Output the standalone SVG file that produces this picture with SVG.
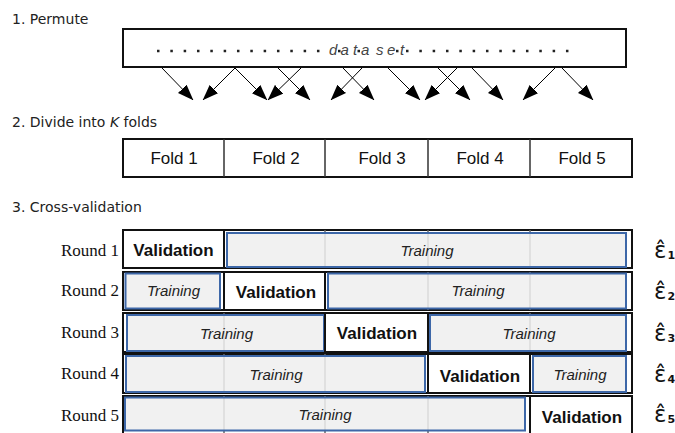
<svg xmlns="http://www.w3.org/2000/svg" width="675" height="433" viewBox="0 0 675 433">
  <defs>
    <marker id="head" markerUnits="userSpaceOnUse" markerWidth="16" markerHeight="12" viewBox="0 0 16 12" refX="15.5" refY="6" orient="auto">
      <path d="M0,0 L16,6 L0,12 z" fill="#000"/>
    </marker>
    <style>
      .hdr{font-family:"DejaVu Sans",sans-serif;font-size:14px;fill:#222}
      .box{fill:#fff;stroke:#111;stroke-width:2}
      .div{stroke:#333;stroke-width:1.5}
      .dots{stroke:#222;stroke-width:2.5;stroke-dasharray:2.5 10.83}
      .dot{fill:#222}
      .word{font-family:"Liberation Sans",Arial,sans-serif;font-size:15px;font-style:italic;fill:#444}
      .fold{font-family:"Liberation Sans",Arial,sans-serif;font-size:17px;fill:#111;text-anchor:middle}
      .round{font-family:"Liberation Serif","Times New Roman",serif;font-size:17px;fill:#111;text-anchor:end}
      .frame{fill:#fff;stroke:#111;stroke-width:2}
      .grid{stroke:#666;stroke-width:1.5}
      .train{fill:#eeeeee;fill-opacity:0.85;stroke:#3d67a8;stroke-width:2}
      .val{fill:#fff;stroke:#111;stroke-width:2}
      .vt{font-family:"Liberation Sans",Arial,sans-serif;font-size:17px;font-weight:bold;fill:#111;text-anchor:middle}
      .tt{font-family:"Liberation Sans",Arial,sans-serif;font-size:15px;font-style:italic;fill:#222;text-anchor:middle}
      .eps{font-family:"DejaVu Sans",sans-serif;font-size:23px;fill:#111}
      .sub{font-size:11px;font-weight:bold}
      .arrow{stroke:#000;stroke-width:1;fill:none;marker-end:url(#head)}
    </style>
  </defs>

  <!-- section headings -->
  <text class="hdr" x="12" y="24">1. Permute</text>
  <text class="hdr" x="12" y="127">2. Divide into <tspan font-style="italic">K</tspan> folds</text>
  <text class="hdr" x="12" y="212">3. Cross-validation</text>

  <!-- shuffled dataset -->
  <g id="dataset">
    <rect class="box" x="123" y="29" width="503" height="38"/>
    <line class="dots" x1="157" y1="51" x2="320" y2="51"/>
    <line class="dots" x1="406" y1="51" x2="569" y2="51"/>
    <rect class="dot" x="338" y="49.8" width="2.5" height="2.5"/>
    <rect class="dot" x="357.5" y="49.8" width="2.5" height="2.5"/>
    <rect class="dot" x="396" y="49.8" width="2.5" height="2.5"/>
    <text class="word" x="329 340.5 353 361 376 387 400" y="55">dataset</text>
  </g>

  <!-- permutation arrows -->
  <g id="connectors">
    <line class="arrow" x1="162" y1="68" x2="193" y2="100"/>
    <line class="arrow" x1="235" y1="68" x2="203" y2="100"/>
    <line class="arrow" x1="235" y1="68" x2="267" y2="100"/>
    <line class="arrow" x1="301" y1="68" x2="268" y2="100"/>
    <line class="arrow" x1="278" y1="68" x2="310" y2="100"/>
    <line class="arrow" x1="362" y1="68" x2="331" y2="100"/>
    <line class="arrow" x1="343" y1="68" x2="374" y2="100"/>
    <line class="arrow" x1="388" y1="68" x2="420" y2="100"/>
    <line class="arrow" x1="457" y1="68" x2="425" y2="100"/>
    <line class="arrow" x1="438" y1="68" x2="470" y2="100"/>
    <line class="arrow" x1="472" y1="68" x2="503" y2="100"/>
    <line class="arrow" x1="555" y1="68" x2="523" y2="100"/>
    <line class="arrow" x1="562" y1="68" x2="593" y2="100"/>
  </g>

  <!-- the five folds -->
  <g id="folds">
    <rect class="box" x="123" y="139" width="509" height="38"/>
    <line class="div" x1="224" y1="139" x2="224" y2="177"/>
    <line class="div" x1="325" y1="139" x2="325" y2="177"/>
    <line class="div" x1="428" y1="139" x2="428" y2="177"/>
    <line class="div" x1="530" y1="139" x2="530" y2="177"/>
    <text class="fold" x="174" y="164">Fold 1</text>
    <text class="fold" x="276" y="164">Fold 2</text>
    <text class="fold" x="382" y="164">Fold 3</text>
    <text class="fold" x="480" y="164">Fold 4</text>
    <text class="fold" x="582" y="164">Fold 5</text>
  </g>

  <!-- round 1 -->
  <g id="round1">
    <text class="round" x="119" y="256">Round 1</text>
    <rect class="frame" x="123" y="230" width="509" height="38"/>
    <path class="grid" d="M224,230V268M325,230V268M428,230V268M530,230V268"/>
    <rect class="train" x="227" y="233" width="399" height="34"/>
    <rect class="val" x="123" y="230" width="101" height="38"/>
    <text class="vt" x="173.5" y="256">Validation</text>
    <text class="tt" x="427" y="256">Training</text>
    <text class="eps" x="654" y="258">ε̂<tspan class="sub" dx="1" dy="1">1</tspan></text>
  </g>

  <!-- round 2 -->
  <g id="round2">
    <text class="round" x="119" y="296">Round 2</text>
    <rect class="frame" x="123" y="272" width="509" height="38"/>
    <path class="grid" d="M224,272V310M325,272V310M428,272V310M530,272V310"/>
    <rect class="train" x="125.5" y="273.5" width="94.5" height="35"/>
    <rect class="train" x="328" y="273.5" width="298" height="35"/>
    <rect class="val" x="224" y="272" width="101" height="38"/>
    <text class="tt" x="173.5" y="296">Training</text>
    <text class="vt" x="276" y="298">Validation</text>
    <text class="tt" x="478" y="296">Training</text>
    <text class="eps" x="654" y="299">ε̂<tspan class="sub" dx="1" dy="1">2</tspan></text>
  </g>

  <!-- round 3 -->
  <g id="round3">
    <text class="round" x="119" y="338">Round 3</text>
    <rect class="frame" x="123" y="313" width="509" height="39"/>
    <path class="grid" d="M224,313V352M325,313V352M428,313V352M530,313V352"/>
    <rect class="train" x="127" y="315" width="197" height="36"/>
    <rect class="train" x="430" y="315" width="196" height="36"/>
    <rect class="val" x="325" y="313" width="103" height="39"/>
    <text class="tt" x="226.5" y="338.5">Training</text>
    <text class="vt" x="377" y="339">Validation</text>
    <text class="tt" x="529" y="338.5">Training</text>
    <text class="eps" x="654" y="341">ε̂<tspan class="sub" dx="1" dy="1">3</tspan></text>
  </g>

  <!-- round 4 -->
  <g id="round4">
    <text class="round" x="119" y="379">Round 4</text>
    <rect class="frame" x="123" y="354" width="509" height="39"/>
    <path class="grid" d="M224,354V393M325,354V393M428,354V393M530,354V393"/>
    <rect class="train" x="126" y="356" width="299" height="36"/>
    <rect class="train" x="533" y="356" width="93" height="36"/>
    <rect class="val" x="428" y="354" width="102" height="39"/>
    <text class="tt" x="276" y="380">Training</text>
    <text class="vt" x="480" y="381.5">Validation</text>
    <text class="tt" x="580" y="380">Training</text>
    <text class="eps" x="654" y="382">ε̂<tspan class="sub" dx="1" dy="1">4</tspan></text>
  </g>

  <!-- round 5 -->
  <g id="round5">
    <text class="round" x="119" y="421">Round 5</text>
    <rect class="frame" x="123" y="396" width="509" height="40"/>
    <path class="grid" d="M224,396V436M325,396V436M428,396V436M530,396V436"/>
    <rect class="train" x="125" y="397.5" width="400" height="33"/>
    <rect class="val" x="530" y="396" width="102" height="40"/>
    <text class="tt" x="325" y="420">Training</text>
    <text class="vt" x="582" y="423">Validation</text>
    <text class="eps" x="654" y="422">ε̂<tspan class="sub" dx="1" dy="1">5</tspan></text>
  </g>
</svg>
